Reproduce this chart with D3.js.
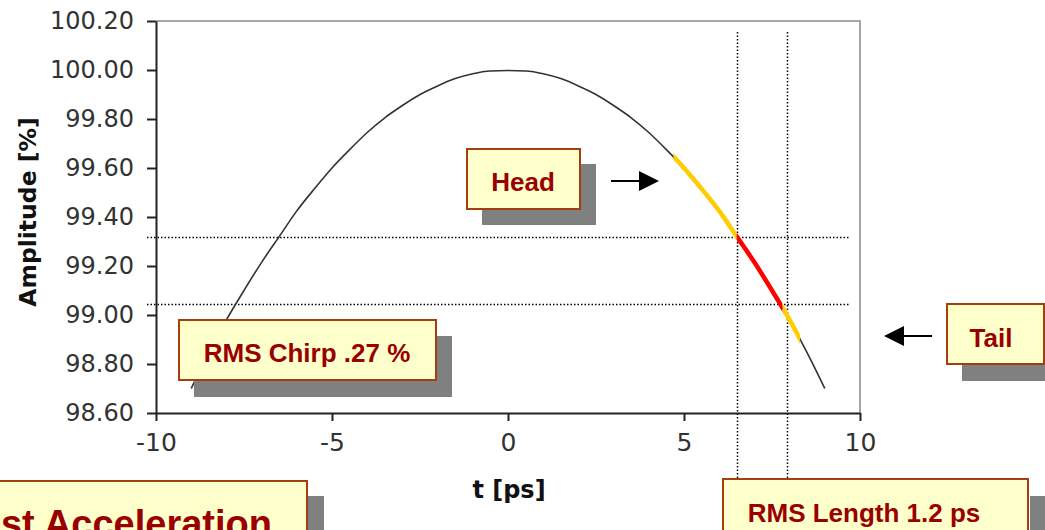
<!DOCTYPE html>
<html><head><meta charset="utf-8">
<script src="https://cdn.jsdelivr.net/npm/d3@7"></script>
<style>
html,body{margin:0;padding:0;background:#fff;overflow:hidden;}
svg{display:block;}
</style></head>
<body>
<svg id="chart" width="1045" height="530"></svg>
<script>
// ---- data ----
const tValues = [-9,-8.5,-8,-7.5,-7,-6.5,-6,-5.5,-5,-4.5,-4,-3.5,-3,-2.5,-2,-1.5,-1,-0.5,0,
                 0.5,1,1.5,2,2.5,3,3.5,4,4.5,5,5.5,6,6.5,7,7.5,8,8.5,9];
const ampValues = [98.70,98.845,98.98,99.10,99.215,99.32,99.425,99.515,99.60,99.675,99.745,99.805,99.855,99.90,99.935,99.965,99.985,99.996,99.998,
                   99.996,99.985,99.965,99.935,99.90,99.855,99.805,99.745,99.675,99.60,99.515,99.425,99.32,99.215,99.10,98.98,98.845,98.70];
const segStart = [4.7, 6.5, 7.8];
const segEnd   = [6.5, 7.8, 8.3];
const segColor = ["#ffcc00", "#ff0000", "#ffcc00"];
const markerT = [6.5, 7.93];
const markerA = [99.32, 99.045];
const yTicks = [98.6,98.8,99.0,99.2,99.4,99.6,99.8,100.0,100.2];
const xTicks = [-10,-5,0,5,10];
const yTitle = "Amplitude [%]";
const xTitle = "t [ps]";
const labelTexts = ["Head", "RMS Chirp .27 %", "Tail", "RMS Length 1.2 ps", "st Acceleration"];

// ---- layout ----
const svg = d3.select("#chart");
const x = d3.scaleLinear().domain([-10,10]).range([156,860]);
const y = d3.scaleLinear().domain([98.6,100.2]).range([413,21]);
const pts = tValues.map((t,i)=>({t, a: ampValues[i]}));

// plot frame (top/right grey)
svg.append("path")
  .attr("d", `M${x(-10)},${y(100.2)}H${x(10)}V${y(98.6)}`)
  .attr("fill","none").attr("stroke","#a6a6a6").attr("stroke-width",2);

// dotted reference lines
const dot = svg.append("g").attr("stroke","#000").attr("stroke-width",1.5).attr("stroke-dasharray","1.5,2");
markerA.forEach(a => dot.append("line").attr("x1",147).attr("x2",850).attr("y1",Math.round(y(a))+0.5).attr("y2",Math.round(y(a))+0.5));
markerT.forEach(t => dot.append("line").attr("x1",Math.round(x(t))+0.5).attr("x2",Math.round(x(t))+0.5).attr("y1",32).attr("y2",530));

// curve
const line = d3.line().x(d=>x(d.t)).y(d=>y(d.a)).curve(d3.curveMonotoneX);
svg.append("path").datum(pts).attr("d",line).attr("fill","none").attr("stroke","#333").attr("stroke-width",1.6);

const defs = svg.append("defs");
segStart.forEach((s,i)=>{
  defs.append("clipPath").attr("id","seg"+i).append("rect")
    .attr("x",x(s)).attr("width",x(segEnd[i])-x(s)).attr("y",0).attr("height",530);
  svg.append("path").datum(pts).attr("d",line).attr("fill","none")
    .attr("stroke",segColor[i]).attr("stroke-width",4.5).attr("clip-path",`url(#seg${i})`);
});

// axes
const fmt = d3.format(".2f");
const yAxis = svg.append("g").attr("transform",`translate(${x(-10)},0)`)
  .call(d3.axisLeft(y).tickValues(yTicks).tickFormat(fmt).tickSize(9).tickSizeOuter(0).tickPadding(13));
const xAxis = svg.append("g").attr("transform",`translate(0,${y(98.6)})`)
  .call(d3.axisBottom(x).tickValues(xTicks).tickFormat(d=>d<0?"-"+Math.abs(d):d).tickSize(8).tickSizeOuter(0).tickPadding(12));
[yAxis,xAxis].forEach(g=>{
  g.select(".domain").attr("stroke","#222").attr("stroke-width",2);
  g.selectAll(".tick line").attr("stroke","#222").attr("stroke-width",2);
});
yAxis.selectAll("text").attr("font-family","DejaVu Sans").attr("font-size",24).attr("fill","#333");
xAxis.selectAll("text").attr("font-family","DejaVu Sans").attr("font-size",25).attr("fill","#333");

// axis titles
svg.append("text").text(yTitle)
  .attr("transform","translate(36,212) rotate(-90)").attr("text-anchor","middle")
  .attr("font-family","DejaVu Sans").attr("font-weight","bold").attr("font-size",23.5).attr("fill","#111");
svg.append("text").text(xTitle).attr("x",509).attr("y",498).attr("text-anchor","middle")
  .attr("font-family","DejaVu Sans").attr("font-weight","bold").attr("font-size",24).attr("fill","#111");

// annotation boxes
const boxes = [
  {bx:467, by:149, bw:113, bh:60, sx:482, sy:164, sw:114, sh:61, tx:523, ty:191, fs:26, anchor:"middle"},
  {bx:179, by:320, bw:257, bh:60, sx:194, sy:336, sw:258, sh:61, tx:307, ty:362, fs:26, anchor:"middle"},
  {bx:947, by:304, bw:97, bh:60, sx:962, sy:320, sw:90, sh:61, tx:991, ty:347, fs:26, anchor:"middle"},
  {bx:723, by:479, bw:305, bh:70, sx:1030, sy:496, sw:30, sh:60, tx:864, ty:522, fs:26, anchor:"middle"},
  {bx:-10, by:481, bw:317, bh:70, sx:307, sy:496, sw:17, sh:60, tx:272, ty:537, fs:38, anchor:"end"}
];
boxes.forEach((b,i)=>{
  svg.append("rect").attr("x",b.sx).attr("y",b.sy).attr("width",b.sw).attr("height",b.sh).attr("fill","#808080");
  svg.append("rect").attr("x",b.bx).attr("y",b.by).attr("width",b.bw).attr("height",b.bh)
    .attr("fill","#ffffcc").attr("stroke","#a0400f").attr("stroke-width",2);
  svg.append("text").text(labelTexts[i]).attr("x",b.tx).attr("y",b.ty).attr("text-anchor",b.anchor)
    .attr("font-family","Liberation Sans, Arial").attr("font-weight","bold").attr("font-size",b.fs).attr("fill","#990000");
});

// arrows
function arrow(x1,x2,yy){
  const dir = Math.sign(x2-x1);
  svg.append("line").attr("x1",x1).attr("x2",x2-dir*18).attr("y1",yy).attr("y2",yy).attr("stroke","#000").attr("stroke-width",2);
  svg.append("path").attr("d",`M${x2},${yy}L${x2-dir*20},${yy-10}L${x2-dir*20},${yy+10}Z`).attr("fill","#000");
}
arrow(611,659,181);
arrow(932,884,336);
</script>
</body></html>
